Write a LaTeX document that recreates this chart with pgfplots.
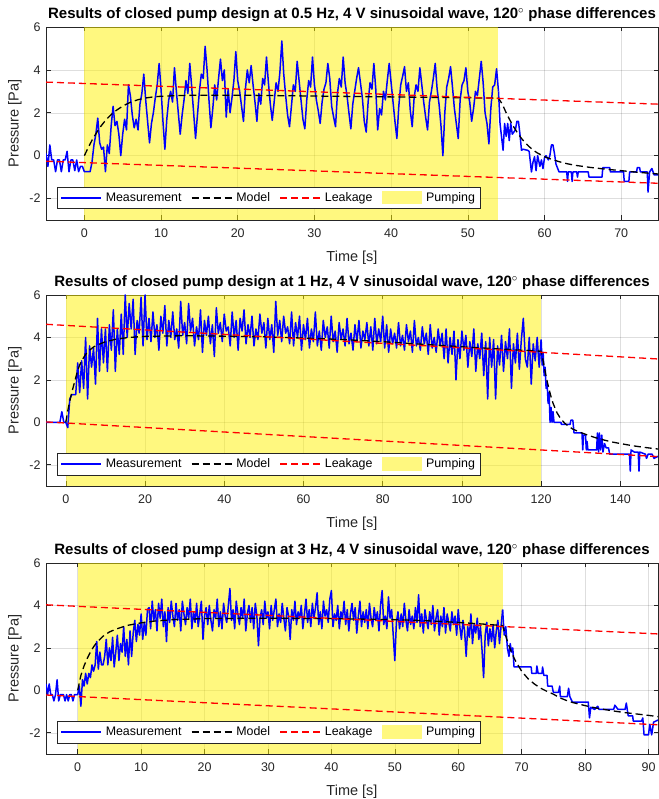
\documentclass[border=0pt]{standalone}
\usepackage{fontspec}
\setmainfont{Liberation Sans}
\usepackage{pgfplots}
\pgfplotsset{compat=1.18}

\definecolor{axgray}{rgb}{0.15,0.15,0.15}

\pgfplotsset{
  legend image code/.code={\draw[#1] (0pt,0pt) -- (40pt,0pt);},
  pumplegend/.style={legend image code/.code={\fill[##1] (0pt,-6.5pt) rectangle (40pt,7pt);}},
  pump/.style={
    scale only axis, width=612pt,
    ymin=-3, ymax=6, ytick={-2,0,2,4,6}, xmin=-5,
    grid=major,
    grid style={black, opacity=0.13, line width=0.5pt},
    axis line style={axgray, line width=0.6pt},
    every tick/.style={axgray, line width=0.6pt},
    tick align=inside, major tick length=4.5pt,
    /pgf/number format/assume math mode=true,
    ticklabel style={font=\fontsize{12.5}{14}\selectfont, text=axgray},
    xticklabel style={yshift=-5pt},
    yticklabel style={xshift=-2pt},
    xlabel={Time [s]}, ylabel={Pressure [Pa]},
    label style={font=\fontsize{14.5}{16}\selectfont, text=axgray},
    ylabel style={at={(axis description cs:-0.0507,0.5)}, anchor=center},
    xlabel style={at={(axis description cs:0.5,0)}, anchor=center, yshift=-38pt},
    title style={font=\bfseries\fontsize{15}{17}\selectfont, at={(axis description cs:0.5,1)}, anchor=base, yshift=2pt},
    legend columns=4,
    legend cell align=left,
    legend style={at={(axis description cs:0.018,0.057)}, anchor=south west,
      draw=axgray, fill=white, line width=0.5pt, font=\fontsize{12.4}{14}\selectfont,
      inner xsep=3pt, inner ysep=3.5pt,
      /tikz/every odd column/.append style={column sep=2pt},
      /tikz/every even column/.append style={column sep=7.5pt}},
  },
  meas/.style={blue, line width=1.5pt, line join=round},
  model/.style={black, line width=1.3pt, dash pattern=on 7pt off 4pt},
  leak/.style={red, line width=1.3pt, dash pattern=on 7pt off 4pt},
  shade/.style={draw=none, fill=yellow, fill opacity=0.5},
}

\begin{document}
\begin{tikzpicture}
\useasboundingbox (0,0) rectangle (658pt,799pt);

% ---------------- 0.5 Hz ----------------
\begin{axis}[pump, at={(46pt,579pt)}, anchor=south west, height=193pt,
  xmax=74.8, xtick={0,10,...,70},
  title={Results of closed pump design at 0.5 Hz, 4 V sinusoidal wave, 120$^{\circ}$ phase differences}]
\addplot[shade, forget plot] coordinates {(0,-3) (0,6) (54,6) (54,-3)};
\addplot[meas] table[row sep=\\, header=false, x expr={-5+0.25*\coordindex}, y index=0] {
0.1\\ -0.5\\ 0.5\\ -0.2\\ -0.2\\ -0.75\\ -0.2\\ -0.2\\ -0.75\\ -0.2\\ -0.2\\ 0.2\\ -0.75\\ -0.2\\ -0.2\\ -0.7\\ -0.2\\ -0.75\\ -0.5\\ -0.5\\
-0.75\\ -0.75\\ -0.75\\ -0.75\\ -0.3\\ 0.5\\ 1.0\\ 1.75\\
0.6\\ 0.3\\ 0.4\\ -0.75\\ 0.5\\ 0.1\\ 1.4\\ 2.3\\
1.4\\ 1.6\\ 1.0\\ 0.0\\ 1.0\\ 1.7\\ 1.2\\ 3.3\\
2.8\\ 1.9\\ 1.3\\ 1.7\\ 1.2\\ 2.4\\ 2.9\\ 3.8\\
2.6\\ 1.6\\ 0.6\\ 1.5\\ 2.0\\ 2.7\\ 3.3\\ 4.3\\
3.1\\ 1.6\\ 0.3\\ 1.7\\ 2.6\\ 3.0\\ 2.5\\ 4.1\\
3.0\\ 2.0\\ 1.0\\ 1.9\\ 2.6\\ 3.5\\ 2.9\\ 4.3\\
3.2\\ 2.0\\ 0.8\\ 1.9\\ 3.0\\ 3.8\\ 3.6\\ 5.1\\
4.0\\ 2.6\\ 1.3\\ 2.2\\ 3.3\\ 2.6\\ 3.6\\ 4.5\\
3.5\\ 4.0\\ 1.8\\ 3.1\\ 2.0\\ 2.7\\ 3.5\\ 4.85\\
3.5\\ 3.0\\ 2.3\\ 1.6\\ 3.1\\ 4.0\\ 3.4\\ 4.2\\
3.3\\ 2.5\\ 1.6\\ 2.9\\ 2.4\\ 3.6\\ 3.3\\ 4.6\\
3.4\\ 2.4\\ 1.65\\ 2.5\\ 3.4\\ 3.0\\ 3.9\\ 5.35\\
3.8\\ 2.8\\ 1.9\\ 1.35\\ 2.3\\ 3.3\\ 3.0\\ 4.4\\
3.5\\ 2.6\\ 1.7\\ 1.25\\ 2.6\\ 3.5\\ 3.2\\ 4.6\\
3.3\\ 2.6\\ 2.1\\ 1.5\\ 2.5\\ 3.1\\ 3.4\\ 4.3\\
3.6\\ 2.3\\ 1.8\\ 1.35\\ 2.9\\ 3.6\\ 3.2\\ 4.6\\
3.4\\ 2.8\\ 2.0\\ 1.25\\ 2.4\\ 3.0\\ 3.6\\ 4.1\\
3.4\\ 2.7\\ 1.6\\ 1.1\\ 2.5\\ 3.4\\ 3.1\\ 4.3\\
3.1\\ 1.2\\ 2.2\\ 1.9\\ 3.0\\ 2.6\\ 3.5\\ 4.3\\
3.4\\ 2.5\\ 1.6\\ 0.8\\ 2.3\\ 3.3\\ 3.7\\ 4.15\\
3.0\\ 3.4\\ 2.1\\ 1.35\\ 2.7\\ 3.3\\ 3.0\\ 4.1\\
3.3\\ 2.5\\ 1.8\\ 1.2\\ 2.5\\ 3.0\\ 3.6\\ 4.3\\
3.1\\ 2.4\\ 1.4\\ 0.0\\ 2.0\\ 3.2\\ 3.6\\ 4.15\\
3.2\\ 2.2\\ 1.5\\ 0.8\\ 2.6\\ 3.3\\ 3.5\\ 4.1\\
3.0\\ 2.5\\ 1.6\\ 2.2\\ 3.0\\ 2.8\\ 3.6\\ 4.4\\
3.4\\ 2.0\\ 1.5\\ 0.55\\ 2.2\\ 3.2\\ 3.3\\ 4.05\\
3.0\\
};
\addlegendentry{Measurement}
\addplot[meas, forget plot] coordinates {
(54,3.0) (54.2,1.5) (54.6,0.25) (54.8,1.5) (55.0,0.9) (55.2,1.5) (55.4,0.7) (55.6,1.5)
(55.8,1.0) (56.2,1.2) (56.4,1.6) (56.6,1.6) (56.8,1.0) (57.0,0.25) (57.2,0.3) (57.8,0.25)
(58.0,0.2) (58.3,-0.76) (58.5,-0.3) (58.7,-0.05) (58.9,-0.7) (59.1,0.0) (59.4,-0.5)
(59.6,-0.2) (59.8,-0.6) (60.0,-0.1) (60.2,0.0) (60.5,-0.2) (60.7,0.0) (60.9,0.5) (61.1,0.5)
(61.3,0.1) (61.5,-0.4) (61.9,-0.76) (62.9,-0.76) (63.0,-1.2) (63.1,-0.76) (63.5,-0.76)
(63.6,-1.2) (63.7,-0.76) (64.2,-0.76) (64.3,-1.0) (64.4,-0.76) (65.7,-0.76) (65.8,-1.0)
(67.5,-1.0) (67.6,-0.56) (68.5,-0.56) (68.6,-0.76) (70.3,-0.76) (70.4,-1.2) (71.0,-1.2)
(71.1,-0.76) (72.0,-0.76) (72.1,-0.56) (72.4,-0.56) (72.5,-0.76) (73.4,-0.76) (73.5,-1.7)
(73.7,-0.76) (74.0,-0.6) (74.3,-0.9) (74.8,-0.9)
};
\addplot[model] coordinates {
(0,0) (0.5,0.37) (1,0.72) (1.5,1.02) (2,1.3) (2.5,1.53) (3,1.74) (3.5,1.92) (4,2.07)
(5,2.31) (6,2.49) (7,2.61) (8,2.69) (9,2.74) (10,2.77) (12,2.8) (15,2.82) (20,2.82)
(25,2.8) (30,2.78) (35,2.76) (40,2.74) (45,2.72) (50,2.7) (54,2.68) (54.5,2.4) (55,2.0)
(55.5,1.65) (56,1.33) (56.5,1.05) (57,0.8) (57.5,0.6) (58,0.42) (58.5,0.27) (59,0.14)
(60,-0.05) (61,-0.18) (62,-0.29) (63,-0.38) (64,-0.45) (66,-0.55) (68,-0.63) (70,-0.7)
(72,-0.77) (74,-0.83) (75,-0.86)
};
\addlegendentry{Model}
\addplot[leak] coordinates {(-5,3.43) (75,2.4)};
\addlegendentry{Leakage}
\addplot[leak, forget plot] coordinates {(-5,-0.26) (75,-1.29)};
\addlegendimage{shade, pumplegend}
\addlegendentry{Pumping}
\end{axis}

% ---------------- 1 Hz ----------------
\begin{axis}[pump, at={(46pt,313pt)}, anchor=south west, height=191pt,
  xmax=149.5, xtick={0,20,...,140},
  title={Results of closed pump design at 1 Hz, 4 V sinusoidal wave, 120$^{\circ}$ phase differences}]
\addplot[shade, forget plot] coordinates {(0,-3) (0,6) (120,6) (120,-3)};
\addplot[meas] table[row sep=\\, header=false, x expr={-5+0.5*\coordindex}, y index=0] {
0\\ 0\\ 0\\ 0\\ 0\\ 0\\ 0\\ 0\\ 0.5\\ 0\\
0\\ -0.25\\ 1.1\\ 1.3\\ 1.3\\ 1.3\\ 2.8\\ 1.4\\ 2.9\\ 1.6\\
4.0\\ 1.1\\ 3.6\\ 2.6\\ 3.5\\ 1.8\\ 4.9\\ 2.4\\ 4.4\\ 2.8\\
4.4\\ 2.4\\ 4.6\\ 3.4\\ 5.3\\ 2.4\\ 4.4\\ 3.2\\ 5.1\\ 3.2\\
6.0\\ 4.0\\ 5.6\\ 4.4\\ 5.8\\ 3.2\\ 4.8\\ 4.2\\ 5.9\\ 3.6\\
6.0\\ 3.9\\
4.9\\ 3.8\\ 5.2\\ 4.0\\ 4.6\\ 3.4\\ 5.0\\ 4.2\\ 5.5\\ 3.6\\ 4.8\\ 4.0\\ 5.2\\ 3.9\\ 4.4\\ 3.5\\
5.7\\ 4.1\\ 4.7\\ 3.7\\ 5.6\\ 4.3\\ 4.9\\ 3.6\\ 4.5\\ 3.9\\ 5.3\\ 3.3\\ 4.8\\ 4.1\\ 5.0\\ 3.7\\
4.6\\ 3.1\\ 5.4\\ 4.2\\ 4.7\\ 3.8\\ 5.1\\ 4.3\\ 4.5\\ 3.6\\ 5.2\\ 4.0\\ 4.8\\ 3.4\\ 4.9\\ 4.3\\
5.3\\ 3.7\\ 4.6\\ 4.0\\ 5.0\\ 3.6\\ 4.4\\ 3.9\\ 5.1\\ 4.2\\ 4.7\\ 3.5\\ 4.9\\ 3.9\\ 4.6\\ 3.3\\
5.7\\ 4.1\\ 4.8\\ 3.8\\ 5.0\\ 4.2\\ 4.5\\ 3.7\\ 5.2\\ 3.6\\ 4.7\\ 4.0\\ 5.0\\ 3.4\\ 4.6\\ 3.9\\
4.9\\ 3.5\\ 4.4\\ 3.8\\ 5.2\\ 3.6\\ 4.3\\ 3.4\\ 4.8\\ 4.0\\ 4.5\\ 3.5\\ 5.0\\ 3.8\\ 4.3\\ 3.3\\
4.7\\ 3.9\\ 4.4\\ 3.6\\ 4.9\\ 3.7\\ 4.2\\ 3.4\\ 4.6\\ 3.8\\ 4.8\\ 3.5\\ 4.3\\ 3.9\\ 4.7\\ 3.6\\
4.5\\ 3.4\\ 4.9\\ 3.7\\ 4.4\\ 3.8\\ 5.0\\ 3.5\\ 4.6\\ 3.3\\ 4.4\\ 3.7\\ 4.2\\ 3.5\\ 4.7\\ 3.6\\
4.1\\ 3.4\\ 4.6\\ 3.8\\ 4.3\\ 3.3\\ 4.8\\ 3.6\\ 4.0\\ 3.4\\ 4.5\\ 3.7\\ 4.2\\ 3.2\\ 4.6\\ 3.5\\
4.0\\ 3.3\\ 4.4\\ 3.6\\ 4.2\\ 3.0\\
4.4\\ 2.8\\ 4.0\\ 3.2\\ 4.3\\ 2.0\\ 3.9\\ 3.0\\ 4.3\\ 3.4\\ 4.1\\ 2.6\\ 3.8\\ 3.1\\ 4.4\\ 2.4\\
3.7\\ 3.0\\ 4.2\\ 2.2\\ 3.8\\ 1.1\\ 4.0\\ 2.6\\ 3.9\\ 1.1\\ 3.6\\ 2.7\\ 4.1\\ 2.4\\ 3.8\\ 3.0\\
4.4\\ 1.6\\ 3.7\\ 2.8\\ 4.2\\ 2.5\\ 3.9\\ 4.9\\ 3.0\\ 2.6\\ 4.0\\ 1.8\\ 3.7\\ 2.9\\ 4.0\\ 2.6\\
3.9\\
};
\addlegendentry{Measurement}
\addplot[meas, forget plot] coordinates {
(120,3.9) (120.25,2.7) (120.5,3.3) (120.75,2.2) (121,2.6) (121.25,1.6) (121.5,1.9)
(121.75,0.9) (122,1.4) (122.25,0.0) (122.5,0.7) (122.75,0.0) (123,0.5) (123.25,0.0)
(125,0.0) (125.1,-0.1) (127.3,-0.1) (127.5,0.1) (128,0.1) (128.3,-0.5) (130.3,-0.5)
(130.5,-1.3) (130.7,-0.6) (131.2,-0.6) (131.4,-1.3) (131.6,-0.9) (131.8,-1.3) (134,-1.3)
(134.2,-0.5) (134.5,-1.4) (134.7,-0.5) (135,-1.3) (135.3,-0.6) (135.6,-1.4) (136,-1.0)
(136.4,-1.2) (137,-1.2) (137.3,-1.5) (142.3,-1.5) (142.5,-2.3) (142.7,-1.3) (143.5,-1.4)
(144.5,-1.4) (144.7,-2.3) (144.9,-1.4) (146.3,-1.5) (146.6,-1.7) (147,-1.5) (148,-1.5)
(148.5,-1.7) (149.5,-1.6)
};
\addplot[model] coordinates {
(0,0) (0.5,0.55) (1,1.0) (1.5,1.4) (2,1.75) (2.5,2.1) (3,2.45) (3.5,2.7) (4,2.9) (5,3.2)
(6,3.4) (7,3.55) (8,3.65) (10,3.8) (13,3.93) (16,4.0) (20,4.05) (30,4.08) (40,4.06)
(50,4.03) (60,3.97) (70,3.9) (80,3.8) (90,3.68) (100,3.56) (110,3.45) (120,3.35)
(120.5,2.9) (121,2.4) (121.5,1.95) (122,1.55) (122.5,1.2) (123,0.9) (124,0.45) (125,0.15)
(126,-0.05) (127,-0.2) (128,-0.32) (130,-0.48) (132,-0.62) (134,-0.74) (136,-0.84)
(138,-0.93) (140,-1.0) (143,-1.1) (146,-1.18) (150,-1.27)
};
\addlegendentry{Model}
\addplot[leak] coordinates {(-5,4.62) (150,2.98)};
\addlegendentry{Leakage}
\addplot[leak, forget plot] coordinates {(-5,0.02) (150,-1.62)};
\addlegendimage{shade, pumplegend}
\addlegendentry{Pumping}
\end{axis}

% ---------------- 3 Hz ----------------
\begin{axis}[pump, at={(46pt,45pt)}, anchor=south west, height=191pt,
  xmax=91.5, xtick={0,10,...,90},
  title={Results of closed pump design at 3 Hz, 4 V sinusoidal wave, 120$^{\circ}$ phase differences}]
\addplot[shade, forget plot] coordinates {(0,-3) (0,6) (67,6) (67,-3)};
\addplot[meas] table[row sep=\\, header=false, x expr={-5+0.25*\coordindex}, y index=0] {
0.3\\ -0.2\\ 0.3\\ -0.2\\ -0.2\\ -0.5\\ -0.2\\ 0.5\\ -0.5\\ -0.2\\ -0.2\\ -0.2\\ -0.5\\ -0.2\\ -0.5\\ -0.2\\ -0.2\\ -0.5\\ -0.2\\ -0.2\\
-0.2\\ 0.2\\ -0.75\\ 0.5\\ 0.2\\ 0.8\\ 0.3\\ 0.8\\ 0.6\\
1.2\\ 0.9\\ 1.2\\ 2.3\\ 1.0\\ 1.8\\ 1.2\\ 1.2\\
1.6\\ 2.4\\ 1.2\\ 2.0\\ 1.4\\ 2.5\\ 1.1\\ 1.8\\ 2.6\\ 1.4\\ 2.2\\ 1.8\\ 3.0\\ 1.6\\ 2.4\\ 1.2\\
2.8\\ 1.6\\ 2.7\\ 3.3\\ 2.3\\ 3.1\\ 2.6\\ 3.6\\ 2.4\\ 3.2\\ 2.6\\ 3.8\\
3.9\\ 2.9\\ 4.2\\ 3.3\\ 3.8\\ 2.8\\ 4.1\\ 3.4\\
4.3\\ 3.0\\ 3.7\\ 2.3\\ 3.9\\ 3.2\\ 4.2\\ 3.5\\
3.0\\ 4.1\\ 3.3\\ 3.8\\ 2.8\\ 4.2\\ 3.6\\ 3.1\\
3.9\\ 3.4\\ 4.3\\ 2.9\\ 3.7\\ 3.2\\ 4.1\\ 3.0\\
3.6\\ 4.2\\ 2.4\\ 3.5\\ 3.9\\ 3.1\\ 4.0\\ 3.3\\
2.8\\ 3.8\\ 3.4\\ 4.3\\ 3.0\\ 3.7\\ 2.9\\ 4.1\\
3.5\\ 3.2\\ 4.0\\ 4.8\\ 3.3\\ 3.8\\ 2.9\\ 4.2\\
3.6\\ 3.1\\ 3.9\\ 3.4\\ 4.3\\ 2.8\\ 3.6\\ 4.0\\
3.2\\ 3.9\\ 2.9\\ 4.1\\ 3.5\\ 2.1\\ 3.4\\ 3.8\\
3.1\\ 4.2\\ 3.4\\ 3.7\\ 2.9\\ 4.0\\ 3.3\\ 3.8\\
4.3\\ 3.0\\ 3.6\\ 3.2\\ 4.1\\ 3.4\\ 2.8\\ 3.9\\
3.5\\ 2.4\\ 3.8\\ 3.3\\ 4.2\\ 3.1\\ 3.7\\ 3.4\\
4.0\\ 2.9\\ 3.6\\ 4.3\\ 3.2\\ 3.8\\ 3.0\\ 4.1\\
3.4\\ 3.9\\ 4.6\\ 3.1\\ 3.7\\ 2.9\\ 4.2\\ 3.5\\
3.8\\ 3.2\\ 4.3\\ 4.7\\ 3.0\\ 3.6\\ 3.3\\ 4.0\\
2.9\\ 3.7\\ 3.4\\ 4.2\\ 3.1\\ 3.8\\ 2.8\\ 3.6\\
4.1\\ 3.3\\ 3.9\\ 2.7\\ 3.5\\ 4.2\\ 3.0\\ 3.7\\
3.2\\ 3.8\\ 2.9\\ 4.1\\ 3.4\\ 3.0\\ 3.9\\ 3.3\\
3.7\\ 2.8\\ 4.0\\ 4.7\\ 3.1\\ 3.5\\ 2.9\\ 4.4\\
3.4\\ 3.8\\ 2.6\\ 1.4\\ 3.2\\ 3.7\\ 2.9\\ 3.6\\
3.0\\ 4.1\\ 3.3\\ 2.8\\ 3.8\\ 3.1\\ 3.5\\ 2.9\\
3.9\\ 3.2\\ 4.5\\ 3.0\\ 3.6\\ 2.7\\ 3.8\\ 3.3\\
2.9\\ 3.7\\ 3.1\\ 4.0\\ 2.8\\ 3.4\\ 3.8\\ 2.6\\
3.5\\ 3.0\\ 3.9\\ 2.7\\ 3.6\\ 3.2\\ 2.8\\ 3.7\\
3.1\\ 3.5\\ 2.6\\ 3.8\\ 3.0\\ 2.4\\ 3.3\\ 2.8\\
1.6\\ 3.0\\ 2.5\\ 3.6\\ 2.2\\ 3.1\\ 2.7\\ 3.4\\
2.4\\ 3.0\\ 1.9\\ 0.6\\ 2.6\\ 3.2\\ 2.1\\ 2.9\\
2.3\\ 3.1\\ 2.0\\ 2.8\\ 3.3\\ 2.2\\ 3.0\\ 3.8\\
};
\addlegendentry{Measurement}
\addplot[meas, forget plot] coordinates {
(67,3.8) (67.25,2.6) (67.5,3.0) (67.75,2.0) (68,1.6) (68.2,2.2) (68.4,1.8) (68.6,2.0)
(68.8,1.1) (71.5,1.1) (71.6,0.8) (72.3,0.8) (72.4,1.15) (72.6,0.8) (73.2,0.8) (73.3,1.1)
(73.5,0.7) (74.0,0.7) (74.1,0.2) (74.8,0.2) (75.0,-0.1) (75.8,-0.1) (76.0,0.2) (76.1,-0.3)
(77.2,-0.3) (77.4,0.1) (77.6,-0.3) (78.0,-0.55) (80.5,-0.55) (80.7,-1.3) (80.9,-0.8)
(81.5,-0.9) (82,-0.75) (82.2,-0.9) (84.5,-0.9) (84.7,-0.7) (85.2,-0.9) (86.3,-0.9)
(86.5,-0.6) (86.8,-1.2) (87.5,-1.2) (87.6,-1.45) (88.9,-1.45) (89.1,-1.3) (89.3,-2.1)
(90.0,-2.1) (90.2,-1.6) (90.5,-2.1) (90.8,-1.5) (91.5,-1.4)
};
\addplot[model] coordinates {
(0,0) (0.5,0.7) (1,1.15) (1.5,1.5) (2,1.8) (2.5,2.05) (3,2.25) (4,2.55) (5,2.75) (6,2.88)
(7,2.98) (8,3.07) (10,3.18) (12,3.26) (15,3.33) (20,3.38) (30,3.4) (40,3.38) (50,3.33)
(55,3.28) (60,3.2) (64,3.12) (67,3.05) (67.5,2.55) (68,2.1) (68.5,1.72) (69,1.4) (70,0.9)
(71,0.55) (72,0.3) (73,0.1) (74,-0.05) (75,-0.18) (76,-0.35) (77,-0.47) (78,-0.57)
(80,-0.72) (82,-0.85) (84,-0.95) (86,-1.04) (88,-1.11) (90,-1.18) (91.5,-1.24)
};
\addlegendentry{Model}
\addplot[leak] coordinates {(-5,4.03) (92,2.65)};
\addlegendentry{Leakage}
\addplot[leak, forget plot] coordinates {(-5,-0.22) (92,-1.63)};
\addlegendimage{shade, pumplegend}
\addlegendentry{Pumping}
\end{axis}
\end{tikzpicture}
\end{document}
